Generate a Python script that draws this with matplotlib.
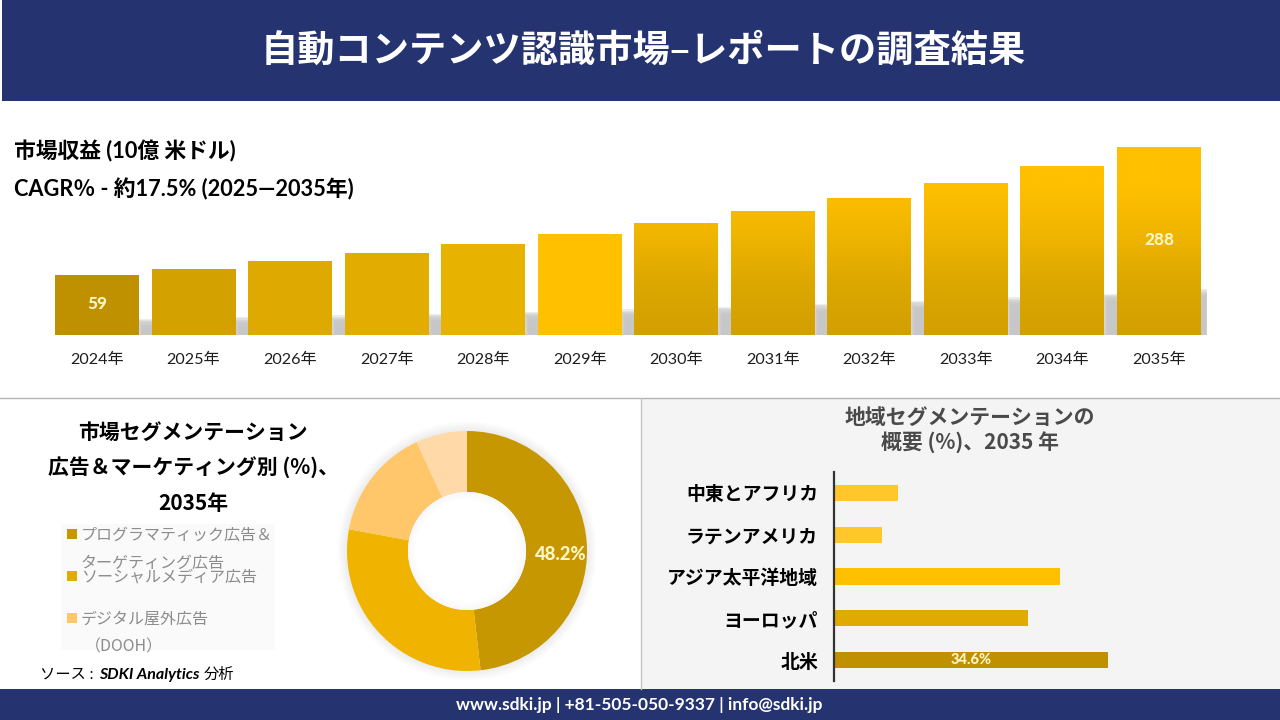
import numpy as np
import matplotlib
matplotlib.use('Agg')
import matplotlib.pyplot as plt
from matplotlib.patches import Rectangle, Circle
from matplotlib.colors import LinearSegmentedColormap

# ---------- data ----------
years = ['2024年','2025年','2026年','2027年','2028年','2029年','2030年','2031年','2032年','2033年','2034年','2035年']
revenue = [59, 70, 84, 98, 114, 132, 152, 173, 197, 224, 254, 288]
revenue_labels = {0: '59', 11: '288'}
revenue_colors = ['#BF9000','#D4A200','#DEA900','#E2AD00','#E8B200','#FFC000']
segment_values = [48.2, 29.7, 15.2, 6.9]
segment_colors = ['#C69700','#F0B400','#FFC76A','#FFD9A8']
legend_labels = [('#C69700',['プログラマティック広告＆','ターゲティング広告']),
                 ('#E2AB00',['ソーシャルメディア広告']),
                 ('#FFC76A',['デジタル屋外広告','（DOOH）'])]
regions = ['北米','ヨーロッパ','アジア太平洋地域','ラテンアメリカ','中東とアフリカ']
region_values = [34.6, 24.5, 28.5, 6.1, 8.1]
region_colors = ['#BF9000','#E0AA00','#FFC000','#FFC729','#FFC729']

NAVY = '#253470'
JP = ['Noto Sans CJK JP','DejaVu Sans']
LJ = ['Lato','Noto Sans CJK JP','DejaVu Sans']
LABEL = '#FFF6C8'
W, H = 1280, 720
fig = plt.figure(figsize=(12.8,7.2), dpi=100, facecolor='white')

def axes_px(x0,y0,x1,y1,**kw):
    return fig.add_axes([x0/W, 1-y1/H, (x1-x0)/W, (y1-y0)/H], **kw)

# ---------- page furniture ----------
bg = axes_px(0,0,W,H,zorder=0)
bg.set_xlim(0,W); bg.set_ylim(H,0); bg.axis('off')
bg.add_patch(Rectangle((2,0),W-2,101,color=NAVY,lw=0))
bg.add_patch(Rectangle((0,689),W,31,color=NAVY,lw=0))
bg.add_patch(Rectangle((641,398),W-641,291,color='#F4F4F4',lw=0))
bg.plot([0,W],[397.5,397.5],color='#B4B4B4',lw=1)
bg.plot([640.5,640.5],[398,689],color='#C4C4C4',lw=1)
bg.add_patch(Rectangle((61,524),214,126,color='#FAFAFA',lw=0))

fg = axes_px(0,0,W,H,zorder=10)
fg.set_xlim(0,W); fg.set_ylim(H,0); fg.axis('off'); fg.patch.set_alpha(0)
def T(x,y,s,size,color='black',weight='normal',ha='left',family=JP,**kw):
    return fg.text(x,y,s,fontsize=size,color=color,fontweight=weight,ha=ha,va='center',family=family,**kw)

T(643,51,'自動コンテンツ認識市場–レポートの調査結果',26.8,'white','bold','center')
T(639,705,'www.sdki.jp | +81-505-050-9337 | info@sdki.jp',12.5,'white','bold','center',LJ)
T(14,151,'市場収益 (10億 米ドル)',15.7,'black','bold',family=LJ)
T(14,189,'CAGR％ - 約17.5% (2025―2035年)',15.7,'black','bold',family=LJ)
T(193,432,'市場セグメンテーション',15,'black','bold','center')
T(193,468,'広告＆マーケティング別 (%)、',15,'black','bold','center')
T(193,504,'2035年',15,'black','bold','center')
ypos = [[534,562],[576],[618,646]]
for (c,lines),ys in zip(legend_labels,ypos):
    bg.add_patch(Rectangle((67,ys[0]-5),10,10,color=c,lw=0))
    for s,y in zip(lines,ys):
        T(85 if s.startswith('（') else 81,y+1,s,11.5,'#8C8C8C',family=JP)
T(40,675,'ソース :',11,'black','normal',family=LJ)
T(99,675,'SDKI Analytics',11.5,'black','bold',family=LJ,style='italic')
T(204,675,'分析',11,'black','normal',family=LJ)
T(970,417,'地域セグメンテーションの',15,'#4A4A4A','bold','center')
T(970,443,'概要 (%)、2035 年',15,'#4A4A4A','bold','center')

# ---------- revenue bars ----------
BASE = -48.3
SCALE = 0.559
ax = axes_px(48.7,135,1207.3,335,zorder=2)
ax.patch.set_alpha(0)
TOP = BASE + 200/SCALE
x = np.arange(len(years))
vals = np.array(revenue,float)
bw = 84/96.55
# soft shadow band behind the bars, fading at the top and towards each bar's right edge
for i,v in enumerate(vals):
    h = 0.23*(v-BASE)
    last = i == len(vals)-1
    for k in range(7):
        left = i+bw/2 - 0.02 + (0 if last else 0.009*k)
        right = i+bw/2 + 0.085 - 0.006*k if last else i+1-bw/2
        ax.add_patch(Rectangle((left,BASE),right-left,h+(2.5-1.2*k)/SCALE,color='#C4C4C4',alpha=0.32,lw=0,zorder=1))
bars = ax.bar(x,vals-BASE,width=bw,bottom=BASE,zorder=3,linewidth=0)
grad = LinearSegmentedColormap.from_list('g',['#D2A000','#DCA700','#F0B500','#FFC000','#FFC000'])
for i,b in enumerate(bars):
    if i < len(revenue_colors):
        b.set_facecolor(revenue_colors[i])
    else:
        b.set_facecolor('none')
        im = ax.imshow(np.linspace(0,1,200)[:,None],extent=(b.get_x(),b.get_x()+b.get_width(),BASE,TOP),
                       origin='lower',cmap=grad,aspect='auto',zorder=3,interpolation='bilinear')
        im.set_clip_path(b)
ax.set_xlim(-0.5,11.5); ax.set_ylim(BASE,TOP)
for i,s in revenue_labels.items():
    yv = {0:(335-304),11:(335-240)}[i]/SCALE+BASE
    ax.text(i,yv,s,color=LABEL,fontsize=12.3,fontweight='black',ha='center',va='center',family=LJ,zorder=5)
ax.set_xticks(x,years,family=LJ,fontsize=11.6,color='#1E1E1E')
ax.set_yticks([])
ax.tick_params(axis='x',length=0,pad=13)
for s in ax.spines.values(): s.set_visible(False)

# ---------- donut ----------
R = 120
pad = 1.2
pax = axes_px(467-R*pad,551-R*pad,467+R*pad,551+R*pad,zorder=2)
pax.patch.set_alpha(0)
for k in range(9):
    pax.add_patch(Circle((0,0),1.0+0.009*(k+1),color='#808080',alpha=0.012,lw=0,zorder=0))
pax.pie(segment_values,colors=segment_colors,startangle=90,counterclock=False,radius=1,
        wedgeprops=dict(width=0.508,linewidth=0))
pax.add_patch(Circle((0,0),0.492,color='white',lw=0,zorder=4))
for k in range(5):
    pax.add_patch(Circle((0,0),0.488-0.012*k,fill=False,edgecolor='#808080',alpha=0.035-0.006*k,lw=1.6,zorder=5))
pax.set_xlim(-pad,pad); pax.set_ylim(-pad,pad)
T(561,555,'48.2%',13.2,LABEL,'black','center',LJ)

# ---------- regions ----------
rax = axes_px(834,472,834+40*7.92,681,zorder=2)
rax.patch.set_alpha(0)
yy = np.arange(len(regions))
rax.barh(yy,region_values,height=0.39,color=region_colors,linewidth=0)
rax.set_xlim(0,40); rax.set_ylim(-0.5,4.5)
rax.set_yticks(yy,regions,family=JP,fontsize=13.6,fontweight='bold',color='black')
rax.set_xticks([])
rax.tick_params(axis='y',length=0,pad=11.5)
for s in ['top','right','bottom']: rax.spines[s].set_visible(False)
rax.spines['left'].set_color('#333333'); rax.spines['left'].set_linewidth(1.6)
rax.text(region_values[0]/2,0,'34.6%',color=LABEL,fontsize=10.5,fontweight='black',ha='center',va='center',family=LJ)

fig.savefig('out.png',dpi=100)
